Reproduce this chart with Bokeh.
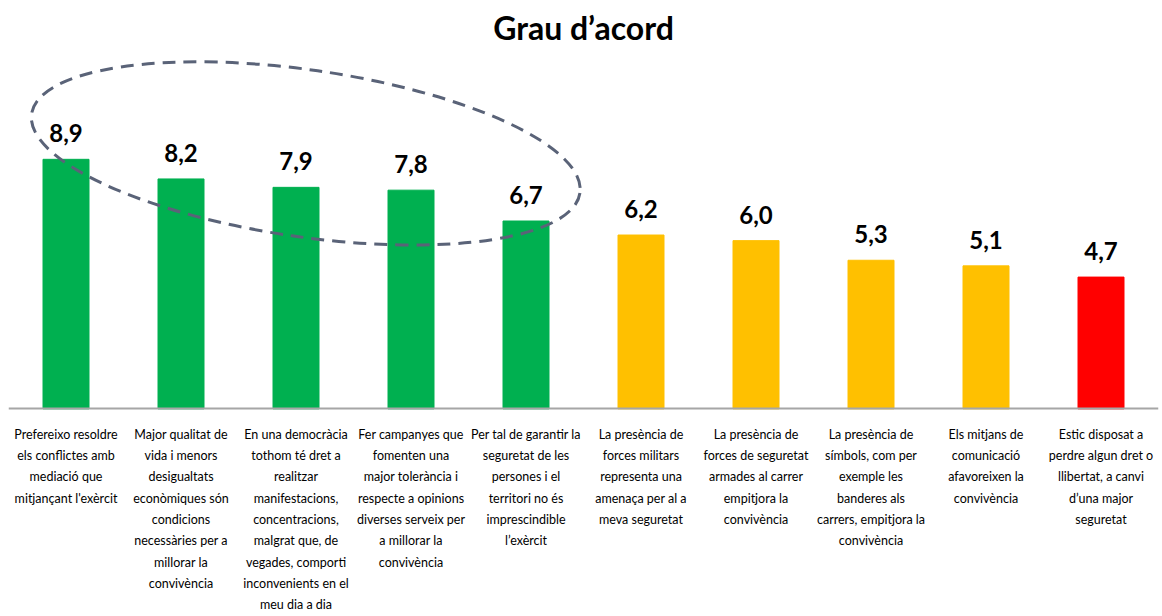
from bokeh.plotting import figure
from bokeh.models import FactorRange, Range1d, ColumnDataSource
from bokeh.core.properties import value
from bokeh.embed import file_html
from bokeh.resources import INLINE

categories = [
    "Prefereixo resoldre\nels conflictes amb\nmediació que\nmitjançant l'exèrcit",
    "Major qualitat de\nvida i menors\ndesigualtats\neconòmiques són\ncondicions\nnecessàries per a\nmillorar la\nconvivència",
    "En una democràcia\ntothom té dret a\nrealitzar\nmanifestacions,\nconcentracions,\nmalgrat que, de\nvegades, comporti\ninconvenients en el\nmeu dia a dia",
    "Fer campanyes que\nfomenten una\nmajor tolerància i\nrespecte a opinions\ndiverses serveix per\na millorar la\nconvivència",
    "Per tal de garantir la\nseguretat de les\npersones i el\nterritori no és\nimprescindible\nl’exèrcit",
    "La presència de\nforces militars\nrepresenta una\namenaça per al a\nmeva seguretat",
    "La presència de\nforces de seguretat\narmades al carrer\nempitjora la\nconvivència",
    "La presència de\nsímbols, com per\nexemple les\nbanderes als\ncarrers, empitjora la\nconvivència",
    "Els mitjans de\ncomunicació\nafavoreixen la\nconvivència",
    "Estic disposat a\nperdre algun dret o\nllibertat, a canvi\nd’una major\nseguretat",
]
values = [8.9, 8.2, 7.9, 7.8, 6.7, 6.2, 6.0, 5.3, 5.1, 4.7]
highlighted = 5  # first five items are circled

def level_color(v):
    if v >= 6.5:
        return "#00B050"
    if v >= 5.0:
        return "#FFC000"
    return "#FF0000"

labels = [f"{v:.1f}".replace(".", ",") for v in values]
colors = [level_color(v) for v in values]

src = ColumnDataSource(dict(cat=categories, val=values, lab=labels, col=colors))

p = figure(
    width=1162, height=616,
    x_range=FactorRange(factors=categories, range_padding=0),
    y_range=Range1d(-7.405, 12.745),
    output_backend="svg", toolbar_location=None,
    min_border_left=8, min_border_right=4, min_border_top=50, min_border_bottom=0,
)
p.title.text = "Grau d’acord"
p.title.align = "center"
p.title.text_font = "Lato"
p.title.text_font_size = "32px"
p.title.text_font_style = "bold"
p.title.text_color = "#000000"

p.vbar(x="cat", top="val", width=0.4, color="col", source=src)
p.text(x="cat", y="val", text="lab", source=src, y_offset=-26,
       text_align="center", text_baseline="alphabetic",
       text_font=value("Lato"), text_font_style="bold", text_font_size="24px",
       text_color="#000000")

# dashed ellipse around the highlighted group
grp_x = sum(i + 0.5 for i in range(highlighted)) / highlighted + 0.085
grp_y = sum(values[:highlighted]) / highlighted + 1.21
p.ellipse(x=[grp_x], y=[grp_y], width=554, height=167, width_units="screen",
          height_units="screen", angle=-8.2, angle_units="deg",
          fill_color=None, line_color="#5a6378", line_width=3, line_dash="13 8")

p.yaxis.visible = False
p.xgrid.grid_line_color = None
p.ygrid.grid_line_color = None
p.outline_line_color = None
p.xaxis.fixed_location = 0
p.xaxis.axis_line_color = "#a6a6a6"
p.xaxis.axis_line_width = 2
p.xaxis.major_tick_line_color = None
p.xaxis.minor_tick_line_color = None
p.xaxis.major_label_standoff = 12
p.xaxis.major_label_text_font = "Lato"
p.xaxis.major_label_text_font_size = "12.5px"
p.xaxis.major_label_text_line_height = 1.42
p.xaxis.major_label_text_color = "#000000"
p.xaxis.major_label_orientation = "horizontal"

open("out.html", "w").write(file_html(p, INLINE))
